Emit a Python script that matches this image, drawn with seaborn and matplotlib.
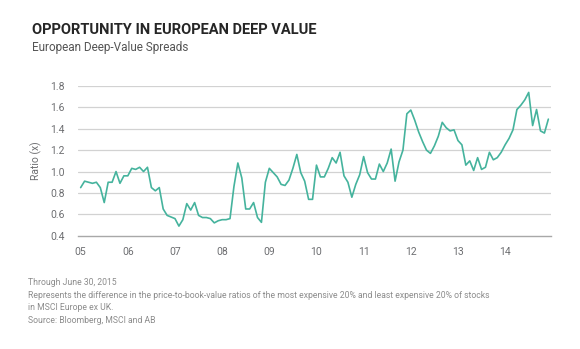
import matplotlib
matplotlib.use("Agg")
import matplotlib.pyplot as plt
import numpy as np
import pandas as pd
import seaborn as sns

# Monthly spread readings, Jan 2005 - Dec 2014 (one list per year)
y2005 = [0.85, 0.91, 0.90, 0.89, 0.90, 0.85, 0.71, 0.90, 0.90, 1.00, 0.89, 0.96]
y2006 = [0.96, 1.03, 1.02, 1.04, 1.00, 1.04, 0.85, 0.82, 0.85, 0.65, 0.59, 0.575]
y2007 = [0.56, 0.49, 0.55, 0.70, 0.64, 0.71, 0.59, 0.57, 0.57, 0.56, 0.52, 0.54]
y2008 = [0.55, 0.55, 0.56, 0.86, 1.08, 0.94, 0.65, 0.65, 0.71, 0.57, 0.525, 0.90]
y2009 = [1.03, 0.99, 0.95, 0.88, 0.87, 0.92, 1.03, 1.16, 0.99, 0.91, 0.74, 0.74]
y2010 = [1.06, 0.95, 0.95, 1.03, 1.13, 1.08, 1.18, 0.96, 0.90, 0.76, 0.88, 0.97]
y2011 = [1.14, 0.99, 0.93, 0.93, 1.07, 1.00, 1.08, 1.21, 0.91, 1.09, 1.20, 1.54]
y2012 = [1.575, 1.48, 1.37, 1.28, 1.20, 1.17, 1.24, 1.33, 1.46, 1.41, 1.38, 1.39]
y2013 = [1.29, 1.25, 1.06, 1.10, 1.01, 1.13, 1.02, 1.04, 1.18, 1.11, 1.13, 1.18]
y2014 = [1.25, 1.31, 1.39, 1.58, 1.62, 1.67, 1.74, 1.43, 1.58, 1.38, 1.36, 1.49]

spreads = y2005 + y2006 + y2007 + y2008 + y2009 + y2010 + y2011 + y2012 + y2013 + y2014
year_labels = ["05", "06", "07", "08", "09", "10", "11", "12", "13", "14"]
y_ticks = [0.4, 0.6, 0.8, 1.0, 1.2, 1.4, 1.6, 1.8]

df = pd.DataFrame({"month": np.arange(len(spreads)), "ratio": spreads})

sns.set_theme(style="white")
plt.rcParams["font.family"] = ["Roboto", "DejaVu Sans"]

fig = plt.figure(figsize=(5.8, 3.49), dpi=100)
ax = fig.add_axes([0.135, 0.3246, 0.8145, 0.429])

sns.lineplot(data=df, x="month", y="ratio", ax=ax, color="#45b39d",
             linewidth=1.2, zorder=3)

ax.set_xlim(-0.6, 119.6)
ax.set_ylim(0.4, 1.8)
ax.set_yticks(y_ticks)
ax.set_yticklabels([f"{v:.1f}" for v in y_ticks])
ax.set_xticks(np.arange(len(year_labels)) * 12)
ax.set_xticklabels(year_labels)

for v in y_ticks[1:]:
    ax.axhline(v, color="#d2d2d2", linewidth=0.9, zorder=1)

for side in ["top", "right", "left"]:
    ax.spines[side].set_visible(False)
ax.spines["bottom"].set_color("#a8a8a8")
ax.spines["bottom"].set_linewidth(1.0)

ax.tick_params(axis="both", length=0, labelsize=7.5, labelcolor="#6d6e71")
ax.tick_params(axis="y", pad=10)
ax.tick_params(axis="x", pad=8)
ax.set_xlabel("")
ax.set_ylabel("Ratio (x)", fontsize=7.5, color="#6d6e71", labelpad=6)

fig.text(32 / 580, 1 - 30.5 / 349, "OPPORTUNITY IN EUROPEAN DEEP VALUE",
         fontsize=10.5, fontweight="bold", color="#262626", va="center")
fig.text(32 / 580, 1 - 47 / 349, "European Deep-Value Spreads",
         fontsize=8.5, color="#555555", va="center")

notes = [
    "Through June 30, 2015",
    "Represents the difference in the price-to-book-value ratios of the most expensive 20% and least expensive 20% of stocks",
    "in MSCI Europe ex UK.",
    "Source: Bloomberg, MSCI and AB",
]
for i, line in enumerate(notes):
    fig.text(28 / 580, 1 - (282.5 + i * 12.6) / 349, line, fontsize=6.25,
             color="#8c8c8c", va="center")

fig.savefig("out.png", dpi=100, facecolor="white")
